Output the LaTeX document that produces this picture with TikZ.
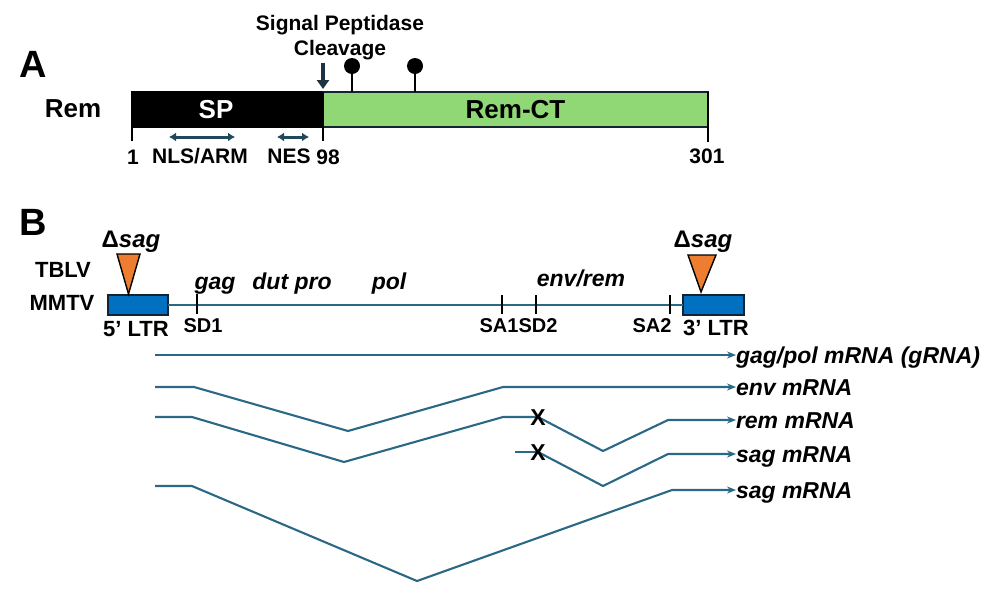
\documentclass[tikz,border=0pt]{standalone}
\usepackage{fontspec}
\setmainfont{Liberation Sans}
\usetikzlibrary{arrows.meta}
\definecolor{rnacol}{RGB}{43,104,134}
\definecolor{dteal}{RGB}{31,72,90}
\definecolor{cleav}{RGB}{30,50,65}
\definecolor{greenbox}{RGB}{144,216,118}
\definecolor{orangetri}{RGB}{237,125,49}
\definecolor{bluebox}{RGB}{0,112,192}
\definecolor{outl}{RGB}{20,35,50}
\begin{document}
\begin{tikzpicture}[x=1pt,y=-1pt,
  lab/.style={inner sep=0pt, outer sep=0pt, text depth=0pt},
  big/.style={lab, text height=27.2pt, font=\fontsize{38}{40}\selectfont\bfseries},
  t26/.style={lab, text height=18.6pt, font=\fontsize{26}{30}\selectfont\bfseries},
  t22/.style={lab, text height=15.8pt, font=\fontsize{22}{26}\selectfont\bfseries},
  t21/.style={lab, text height=15pt, font=\fontsize{21}{25}\selectfont\bfseries},
  t20/.style={lab, text height=14.3pt, font=\fontsize{20}{24}\selectfont\bfseries},
  xmark/.style={lab, text height=16.5pt, font=\fontsize{23}{27}\selectfont\bfseries},
  gene/.style={lab, text height=16.5pt, font=\fontsize{23}{27}\selectfont\bfseries\itshape},
  dsag/.style={lab, text height=17.2pt, font=\fontsize{24}{28}\selectfont\bfseries},
  rnalbl/.style={gene, anchor=west},
  rna/.style={draw=rnacol, line width=2.1pt, line join=round},
  rnaarr/.style={rna, -{Stealth[length=9pt,width=7pt]}},
  tick/.style={draw=black, line width=1.7pt},
  dbl/.style={draw=dteal, line width=3pt, {Latex[length=7pt,width=9pt]}-{Latex[length=7pt,width=9pt]}},
  boxA/.style={inner sep=0pt, outer sep=0pt, anchor=north west, line width=1.8pt},
  ltr/.style={draw=outl, fill=bluebox, line width=1.6pt, inner sep=0pt, outer sep=0pt, anchor=north west, minimum width=#1, minimum height=20pt},
  tri/.style={draw=black, fill=orangetri, line width=1.4pt, line join=miter}
]
\useasboundingbox (0,0) rectangle (1003,595);
\fill[white] (0,0) rectangle (1003,595);

% ---------------- Panel A ----------------
\node[big] (A) at (33,64) {A};
\node[t26] (rem) at (73,108) {Rem};
\node[boxA, draw=black, fill=black, minimum width=191pt, minimum height=35pt] (sp) at (132,92) {};
\node[boxA, draw=outl, fill=greenbox, minimum width=385pt, minimum height=35pt] (ct) at (323,92) {};
\node[t26, text=white] (sptxt) at (216,109) {SP};
\node[t26] (cttxt) at (ct.center) {Rem-CT};

\draw[tick, line width=1.9pt] (sp.north west) -- ([yshift=-14pt]sp.south west);
\draw[tick, line width=1.9pt] (sp.north east) -- ([yshift=-14pt]sp.south east);
\draw[tick, line width=1.9pt] (ct.north east) -- ([yshift=-15pt]ct.south east);

\node[t21] (n1) at (133,157) {1};
\node[t21] (n98) at (328,157) {98};
\node[t21] (n301) at (707,156) {301};
\node[t21] (nls) at (200,156) {NLS/ARM};
\node[t21] (nes) at (289,156) {NES};
\coordinate (nlsL) at (169,137);
\coordinate (nlsR) at (235,137);
\coordinate (nesL) at (277,137);
\coordinate (nesR) at (309,137);
\draw[dbl] (nlsL) -- (nlsR);
\draw[dbl] (nesL) -- (nesR);

\node[t21] (sig1) at (340,23) {Signal Peptidase};
\node[t21] (sig2) at (340,48) {Cleavage};
\coordinate (cleavtop) at (323,63);
\draw[draw=cleav, line width=4.5pt, -{Triangle[length=9pt,width=12pt]}] (cleavtop) -- ([yshift=3pt]sp.north east);

\coordinate (lp1) at (352,92);
\coordinate (lp2) at (415,92);
\draw[line width=2pt] (lp1) -- ++(0,-22);
\draw[line width=2pt] (lp2) -- ++(0,-22);
\fill[black] (352,66) circle [radius=8pt];
\fill[black] (415,66) circle [radius=8pt];

% ---------------- Panel B ----------------
\node[big] (B) at (33,222) {B};
\node[t22] (tblv) at (63,270) {TBLV};
\node[t22] (mmtv) at (62,303) {MMTV};

\node[ltr=60pt] (ltrL) at (108,295) {};
\node[ltr=61pt] (ltrR) at (683,295) {};
\draw[rna] (ltrL.east) -- (ltrR.west);

\draw[tri] (117,254) -- (140,254) -- (128.5,294) -- cycle;
\draw[tri] (688,255) -- (716,255) -- (701,292) -- cycle;
\node[dsag] (dsagL) at (131,239) {Δ\textit{sag}};
\node[dsag] (dsagR) at (703,239) {Δ\textit{sag}};

\node[t22] (ltr5) at (136,329) {5’ LTR};
\node[t22] (ltr3) at (716,328) {3’ LTR};

\draw[tick] (197,294) -- (197,314);
\draw[tick] (502,295) -- (502,314);
\draw[tick] (536,295) -- (536,314);
\draw[tick] (670,295) -- (670,314);
\node[t20] (sd1) at (203,325) {SD1};
\node[t20] (sa1) at (499,325) {SA1};
\node[t20] (sd2) at (538,325) {SD2};
\node[t20] (sa2) at (652,325) {SA2};

\node[gene] (gag) at (215,281) {gag};
\node[gene] (dut) at (292,281) {dut pro};
\node[gene] (pol) at (389,281) {pol};
\node[gene] (envrem) at (581,278) {env/rem};

% RNA species
\node[rnalbl] (m1) at (736,355) {gag/pol mRNA (gRNA)};
\node[rnalbl] (m2) at (736,387) {env mRNA};
\node[rnalbl] (m3) at (736,420) {rem mRNA};
\node[rnalbl] (m4) at (736,454) {sag mRNA};
\node[rnalbl] (m5) at (736,490) {sag mRNA};

\coordinate (a1) at (155,355);
\draw[rnaarr] (a1) -- (m1.west);

\coordinate (b1) at (155,387);
\coordinate (b2) at (194,387);
\coordinate (b3) at (348,431);
\coordinate (b4) at (503,387);
\draw[rnaarr] (b1) -- (b2) -- (b3) -- (b4) -- (m2.west);

\coordinate (c1) at (155,417);
\coordinate (c2) at (192,417);
\coordinate (c3) at (344,462);
\coordinate (c4) at (503,417);
\coordinate (x1) at (538,417);
\coordinate (c5) at (603,451);
\coordinate (c6) at (668,420);
\draw[rna] (c1) -- (c2) -- (c3) -- (c4) -- (x1);
\draw[rnaarr] (x1) -- (c5) -- (c6) -- (m3.west);

\coordinate (d1) at (515,452);
\coordinate (x2) at (538,452);
\coordinate (d2) at (603,486);
\coordinate (d3) at (668,454);
\draw[rna] (d1) -- (x2);
\draw[rnaarr] (x2) -- (d2) -- (d3) -- (m4.west);

\coordinate (e1) at (155,486);
\coordinate (e2) at (192,486);
\coordinate (e3) at (417,581);
\coordinate (e4) at (672,490);
\draw[rnaarr] (e1) -- (e2) -- (e3) -- (e4) -- (m5.west);

\node[xmark] (X1) at (x1) {X};
\node[xmark] (X2) at (x2) {X};
\end{tikzpicture}
\end{document}
